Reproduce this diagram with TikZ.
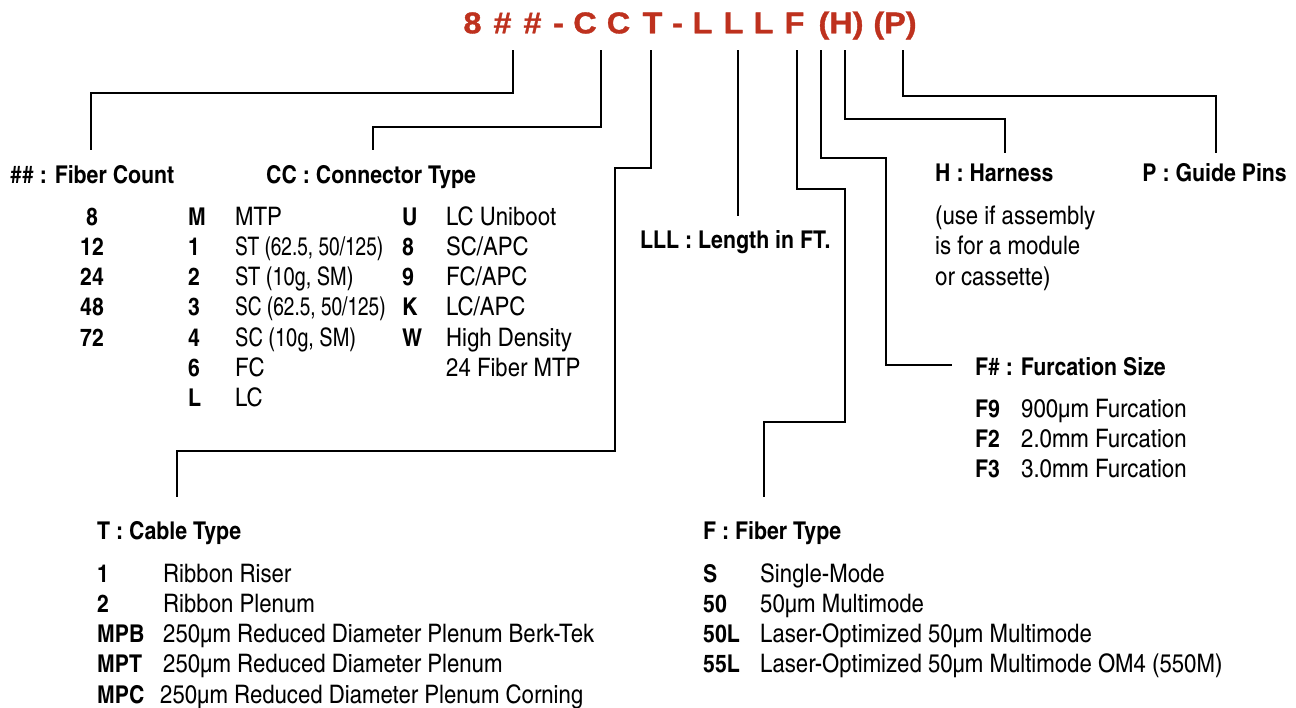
\documentclass[tikz,border=0pt]{standalone}
\usepackage{fontspec}
\setmainfont{texgyreheroscn}[Extension=.otf, UprightFont=*-regular, BoldFont=*-bold, ItalicFont=*-italic, BoldItalicFont=*-bolditalic, FakeStretch=1.06]
\newfontfamily\titlefont{Liberation Sans}[FakeStretch=1.08, FakeBold=1.2]
\definecolor{titlered}{RGB}{190,49,30}
\newcommand{\nrw}[2]{\scalebox{#1}[1]{#2}}
\begin{document}
\begin{tikzpicture}[x=1pt,y=-1pt,
  conn/.style={line width=1.2pt, line join=miter},
  hdr/.style={font=\fontsize{24.5}{28}\selectfont\bfseries, inner sep=0pt, anchor=base west},
  keyc/.style={font=\fontsize{24.5}{28}\selectfont\bfseries, inner sep=0pt, anchor=base west},
  keyn/.style={font=\fontsize{24.5}{28}\selectfont\bfseries, inner sep=0pt, anchor=base},
  txt/.style={font=\fontsize{25.5}{28}\selectfont, inner sep=0pt, anchor=base west},
  ttl/.style={font=\titlefont\bfseries\fontsize{30}{34}\selectfont, text=titlered, inner sep=0pt, anchor=base}]
\fill[white] (0,0) rectangle (1296,707);
\useasboundingbox (0,0) rectangle (1296,707);
% title glyphs
\foreach \g/\x [count=\i] in {8/472.5, \#/502.5, \#/532.5, -/558.5, C/585, C/618.5, T/652.5, -/677.5, L/702.5, L/733.5, L/763.5, F/794.5, (H)/841, (P)/895}
  \node[ttl] (g\i) at (\x,33.3) {\g};
% connector tops and ends
\coordinate (tA) at (513,50);  \coordinate (eA) at (91,150);
\coordinate (tB) at (601,50);  \coordinate (eB) at (373,150);
\coordinate (tC) at (651,50);  \coordinate (eC) at (177,497);
\coordinate (tD) at (738,50);  \coordinate (eD) at (738,216);
\coordinate (tF) at (797,50);  \coordinate (eF) at (764,497);
\coordinate (tS) at (821,50);  \coordinate (eS) at (952,365);
\coordinate (tH) at (845,50);  \coordinate (eH) at (1005,153);
\coordinate (tP) at (903,50);  \coordinate (eP) at (1216,153);
\draw[conn] (tA) -- ++(0,43) -| (eA);
\draw[conn] (tB) -- ++(0,77) -| (eB);
\draw[conn] (tC) -- ++(0,118) -- ++(-36,0) -- ++(0,283) -| (eC);
\draw[conn] (tD) -- (eD);
\draw[conn] (tF) -- ++(0,139) -- ++(48,0) -- ++(0,233) -| (eF);
\draw[conn] (tS) -- ++(0,108) -- ++(65,0) |- (eS);
\draw[conn] (tH) -- ++(0,69) -| (eH);
\draw[conn] (tP) -- ++(0,46) -| (eP);
% Fiber count
\node[hdr] (hFC) at (10,183) {\#\# : Fiber Count};
\foreach \n [count=\i from 0] in {8,12,24,48,72}
  \node[keyn] (fc\i) at (92,225+30.3*\i) {\n};
% Connector type
\node[hdr] (hCC) at (266,183) {CC : Connector Type};
\foreach \k/\t [count=\i from 0] in {M/MTP, 1/{\nrw{0.86}{ST (62.5, 50/125)}}, 2/{\nrw{0.9}{ST (10g, SM)}}, 3/{\nrw{0.86}{SC (62.5, 50/125)}}, 4/{\nrw{0.9}{SC (10g, SM)}}, 6/FC, L/LC}{
  \node[keyc] (ccK\i) at (188,225+30.3*\i) {\k};
  \node[txt] (ccT\i) at (235,225+30.3*\i) {\t};}
\foreach \k/\t [count=\i from 0] in {U/{LC Uniboot}, 8/{SC/APC}, 9/{FC/APC}, K/{LC/APC}, W/{High Density}}{
  \node[keyc] (cdK\i) at (402,225+30.3*\i) {\k};
  \node[txt] (cdT\i) at (446,225+30.3*\i) {\t};}
\node[txt] (cdT5) at (446,225+30.3*5) {24 Fiber MTP};
% Length
\node[hdr] (hL) at (640,248.5) {LLL : Length in FT.};
% Harness
\node[hdr] (hH) at (935,181) {H : Harness};
\foreach \t [count=\i from 0] in {{(use if assembly}, {is for a module}, {or cassette)}}
  \node[txt] (hT\i) at (935,224+30.5*\i) {\t};
% Guide pins
\node[hdr, anchor=base east] (hP) at (1287,181) {P : Guide Pins};
% Furcation
\node[hdr] (hS) at (975,375) {F\# : Furcation Size};
\foreach \k/\t [count=\i from 0] in {F9/{900µm Furcation}, F2/{2.0mm Furcation}, F3/{3.0mm Furcation}}{
  \node[keyc] (sK\i) at (975,417+30.3*\i) {\k};
  \node[txt] (sT\i) at (1021,417+30.3*\i) {\t};}
% Cable type
\node[hdr] (hT) at (97,539) {T : Cable Type};
\foreach \k/\t/\xx [count=\i from 0] in {1/{Ribbon Riser}/163, 2/{Ribbon Plenum}/163, MPB/{250µm Reduced Diameter Plenum Berk-Tek}/163, MPT/{250µm Reduced Diameter Plenum}/163, MPC/{250µm Reduced Diameter Plenum Corning}/160}{
  \node[keyc] (tK\i) at (97,582+30.3*\i) {\k};
  \node[txt] (tT\i) at (\xx,582+30.3*\i) {\t};}
% Fiber type
\node[hdr] (hF) at (703,539) {F : Fiber Type};
\foreach \k/\t [count=\i from 0] in {S/Single-Mode, 50/{50µm Multimode}, 50L/{Laser-Optimized 50µm Multimode}, 55L/{Laser-Optimized 50µm Multimode OM4 (550M)}}{
  \node[keyc] (fK\i) at (703,582+30.3*\i) {\k};
  \node[txt] (fT\i) at (760,582+30.3*\i) {\t};}
\end{tikzpicture}
\end{document}
